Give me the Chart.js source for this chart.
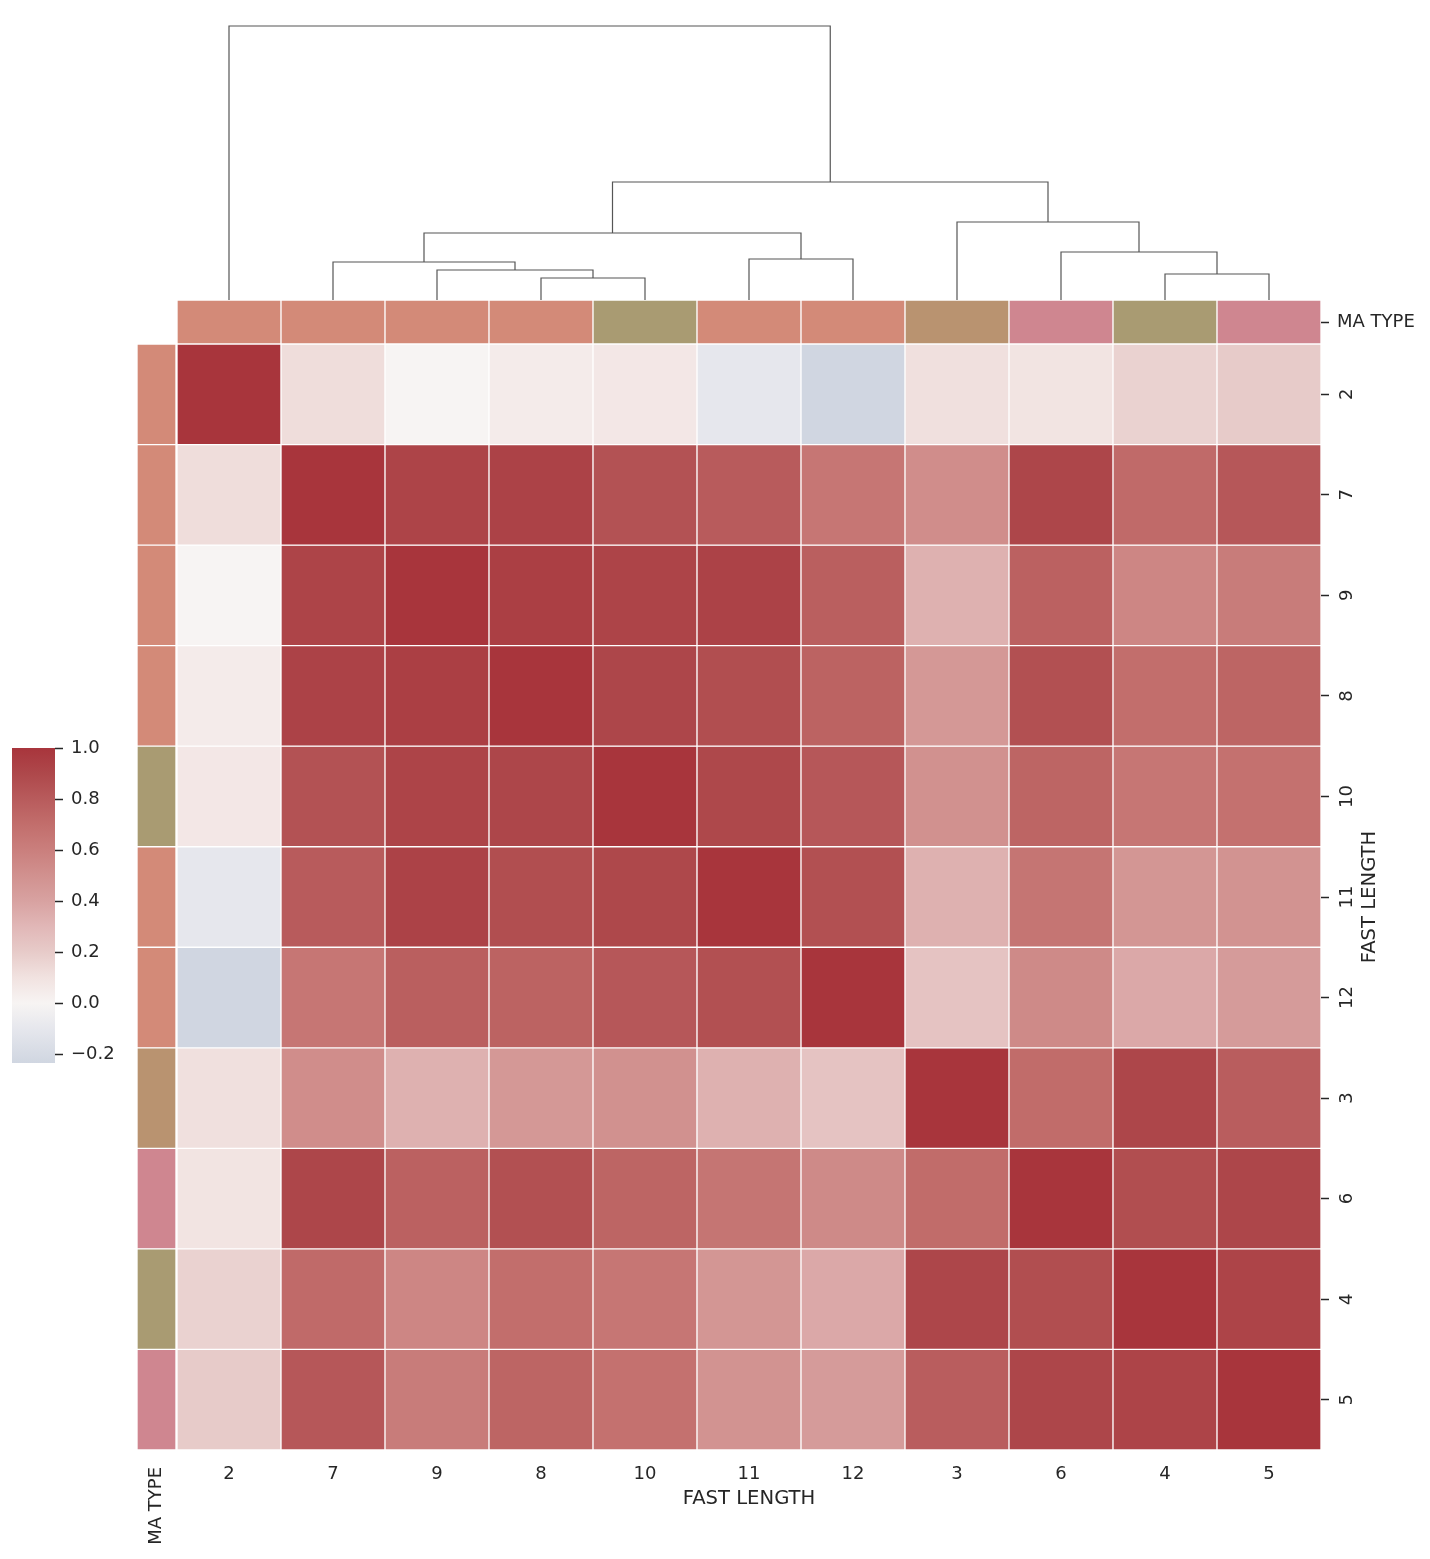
<!DOCTYPE html>
<html>
<head>
<meta charset="utf-8">
<script src="https://cdn.jsdelivr.net/npm/chart.js@4.4.1/dist/chart.umd.min.js"></script>
<style>
  body { margin: 0; background: #fff; }
  #wrap { position: relative; width: 1430px; height: 1559px; }
  #wrap canvas { position: absolute; left: 0; top: 0; }
</style>
</head>
<body>
<div id="wrap">
  <canvas id="dendro" width="1430" height="1559"></canvas>
  <canvas id="colStrip" width="1430" height="1559"></canvas>
  <canvas id="rowStrip" width="1430" height="1559"></canvas>
  <canvas id="cbar" width="1430" height="1559"></canvas>
  <canvas id="heat" width="1430" height="1559"></canvas>
</div>
<script>
// fast lengths, in clustered order (rows and columns are the same)
const lengths = ['2', '7', '9', '8', '10', '11', '12', '3', '6', '4', '5'];
// MA TYPE colour for each length
const maTypeColors = ['#d38a78', '#d38a78', '#d38a78', '#d38a78', '#a99b72', '#d38a78',
                      '#d38a78', '#b99370', '#cf8690', '#a99b72', '#cf8690'];

// correlation matrix, one row per length
const r2  = [1.00, 0.12, 0.00, 0.05, 0.07, -0.10, -0.235, 0.11, 0.09, 0.17, 0.20];
const r7  = [0.12, 1.00, 0.92, 0.93, 0.85, 0.80, 0.65, 0.52, 0.91, 0.72, 0.82];
const r9  = [0.00, 0.92, 1.00, 0.95, 0.92, 0.93, 0.78, 0.33, 0.77, 0.56, 0.62];
const r8  = [0.05, 0.93, 0.95, 1.00, 0.91, 0.87, 0.76, 0.46, 0.86, 0.70, 0.75];
const r10 = [0.07, 0.85, 0.92, 0.91, 1.00, 0.90, 0.82, 0.50, 0.75, 0.65, 0.68];
const r11 = [-0.10, 0.80, 0.93, 0.87, 0.90, 1.00, 0.86, 0.33, 0.66, 0.47, 0.49];
const r12 = [-0.235, 0.65, 0.78, 0.76, 0.82, 0.86, 1.00, 0.24, 0.54, 0.37, 0.44];
const r3  = [0.11, 0.52, 0.33, 0.46, 0.50, 0.33, 0.24, 1.00, 0.71, 0.91, 0.79];
const r6  = [0.09, 0.91, 0.77, 0.86, 0.75, 0.66, 0.54, 0.71, 1.00, 0.87, 0.91];
const r4  = [0.17, 0.72, 0.56, 0.70, 0.65, 0.47, 0.37, 0.91, 0.87, 1.00, 0.92];
const r5  = [0.20, 0.82, 0.62, 0.75, 0.68, 0.49, 0.44, 0.79, 0.91, 0.92, 1.00];
const corr = [r2, r7, r9, r8, r10, r11, r12, r3, r6, r4, r5];

// colorbar
const vmin = -0.235;
const vmax = 1.0;
const cbarTicks = [-0.2, 0.0, 0.2, 0.4, 0.6, 0.8, 1.0];

// dendrogram links (x in column index, y = merge distance), scipy style
const dendroX = [
  [3, 3, 4, 4],
  [2, 2, 3.5, 3.5],
  [1, 1, 2.75, 2.75],
  [5, 5, 6, 6],
  [1.875, 1.875, 5.5, 5.5],
  [9, 9, 10, 10],
  [8, 8, 9.5, 9.5],
  [7, 7, 8.75, 8.75],
  [3.6875, 3.6875, 7.875, 7.875],
  [0, 0, 5.78125, 5.78125]
];
const dendroH = [
  [0, 0.22, 0.22, 0],
  [0, 0.30, 0.30, 0.22],
  [0, 0.38, 0.38, 0.30],
  [0, 0.41, 0.41, 0],
  [0.38, 0.67, 0.67, 0.41],
  [0, 0.26, 0.26, 0],
  [0, 0.48, 0.48, 0.26],
  [0, 0.78, 0.78, 0.48],
  [0.67, 1.18, 1.18, 0.78],
  [0, 2.74, 2.74, 1.18]
];

// colormap (vlag like, centred on 0)
const cmapStops = [
  [-0.235, [208, 214, 225]],
  [-0.1, [230, 231, 237]],
  [0.0, [247, 244, 243]],
  [0.1, [241, 226, 224]],
  [0.2, [231, 203, 201]],
  [0.3, [225, 183, 183]],
  [0.4, [216, 162, 161]],
  [0.5, [209, 145, 143]],
  [0.6, [202, 127, 125]],
  [0.7, [194, 110, 108]],
  [0.8, [184, 91, 92]],
  [0.9, [174, 72, 75]],
  [1.0, [168, 53, 60]]
];
function cmap(v) {
  let i = 0;
  while (i < cmapStops.length - 2 && v > cmapStops[i + 1][0]) i++;
  const [v0, c0] = cmapStops[i];
  const [v1, c1] = cmapStops[i + 1];
  const t = Math.max(0, Math.min(1, (v - v0) / (v1 - v0)));
  const c = c0.map((a, k) => Math.round(a + (c1[k] - a) * t));
  return 'rgb(' + c.join(',') + ')';
}

const W = 1430, H = 1559;
const TXT = '#262626';
const LABEL_SIZE = 19.6;

Chart.defaults.font.family = "'DejaVu Sans', sans-serif";
Chart.defaults.font.size = 18;
Chart.defaults.color = TXT;
Chart.defaults.animation = false;
Chart.defaults.responsive = false;
Chart.defaults.plugins.legend.display = false;
Chart.defaults.plugins.tooltip.enabled = false;

const tickGrid = { drawOnChartArea: false, tickLength: 8, tickWidth: 1.5, tickColor: TXT };

// dendrogram on top
new Chart(document.getElementById('dendro'), {
  type: 'scatter',
  data: {
    datasets: dendroX.map((xs, k) => ({
      data: xs.map((x, j) => ({ x: x, y: dendroH[k][j] })),
      showLine: true,
      borderColor: '#555555',
      borderWidth: 1.2,
      pointRadius: 0
    }))
  },
  options: {
    layout: { padding: { left: 177, right: W - 1321, top: 12, bottom: H - 300 } },
    scales: {
      x: { display: false, min: -0.5, max: lengths.length - 0.5 },
      y: { display: false, min: 0, max: 2.88 }
    }
  }
});

// MA TYPE strip above the heatmap
new Chart(document.getElementById('colStrip'), {
  type: 'bar',
  data: {
    labels: lengths,
    datasets: [{
      data: lengths.map(() => 1),
      backgroundColor: maTypeColors,
      borderColor: '#ffffff',
      borderWidth: 1,
      borderSkipped: false,
      barPercentage: 1,
      categoryPercentage: 1
    }]
  },
  options: {
    layout: { padding: { left: 177, right: W - 1321 - 110, top: 300, bottom: H - 344 } },
    scales: {
      x: { display: false },
      y: {
        position: 'right', min: 0, max: 1,
        grid: tickGrid, border: { display: false },
        ticks: { padding: 8, callback: () => 'MA TYPE' },
        afterBuildTicks: s => { s.ticks = [{ value: 0.5 }]; },
        afterFit: s => { s.width = 110; }
      }
    }
  }
});

// MA TYPE strip left of the heatmap
new Chart(document.getElementById('rowStrip'), {
  type: 'bar',
  data: {
    labels: lengths,
    datasets: [{
      data: lengths.map(() => 1),
      backgroundColor: maTypeColors,
      borderColor: '#ffffff',
      borderWidth: 1,
      borderSkipped: false,
      barPercentage: 1,
      categoryPercentage: 1
    }]
  },
  options: {
    indexAxis: 'y',
    layout: { padding: { left: 137, right: W - 176, top: 344, bottom: H - 1450 - 100 } },
    scales: {
      y: { display: false },
      x: {
        min: 0, max: 1,
        grid: { display: false }, border: { display: false },
        ticks: { padding: 9, minRotation: 90, maxRotation: 90, callback: () => 'MA TYPE' },
        afterBuildTicks: s => { s.ticks = [{ value: 0.5 }]; },
        afterFit: s => { s.height = 100; }
      }
    }
  }
});

// colorbar
new Chart(document.getElementById('cbar'), {
  type: 'bar',
  data: {
    labels: ['corr'],
    datasets: [{
      data: [[vmin, vmax]],
      backgroundColor: c => {
        const chart = c.chart;
        const y = chart.scales.y;
        if (!chart.chartArea || !y) return cmap(0.5);
        const g = chart.ctx.createLinearGradient(0, y.getPixelForValue(vmin), 0, y.getPixelForValue(vmax));
        cmapStops.forEach(([v, col]) => g.addColorStop((v - vmin) / (vmax - vmin), 'rgb(' + col.join(',') + ')'));
        return g;
      },
      borderWidth: 0,
      barPercentage: 1,
      categoryPercentage: 1
    }]
  },
  options: {
    layout: { padding: { left: 12, right: W - 55 - 80, top: 748, bottom: H - 1063 } },
    scales: {
      x: { display: false },
      y: {
        position: 'right', min: vmin, max: vmax,
        grid: tickGrid, border: { display: false },
        ticks: { padding: 8, callback: v => v.toFixed(1).replace('-', '\u2212') },
        afterBuildTicks: s => { s.ticks = cbarTicks.map(v => ({ value: v })); },
        afterFit: s => { s.width = 80; }
      }
    }
  }
});

// right hand axis title, reading bottom to top
const rightTitle = {
  id: 'rightTitle',
  afterDraw(chart) {
    const { ctx, chartArea } = chart;
    const y = chart.scales.y;
    ctx.save();
    ctx.translate(y.right - 31, (chartArea.top + chartArea.bottom) / 2);
    ctx.rotate(-Math.PI / 2);
    ctx.font = LABEL_SIZE + "px 'DejaVu Sans', sans-serif";
    ctx.fillStyle = TXT;
    ctx.textAlign = 'center';
    ctx.textBaseline = 'middle';
    ctx.fillText('FAST LENGTH', 0, 0);
    ctx.restore();
  }
};

// heatmap: one stacked dataset per row
new Chart(document.getElementById('heat'), {
  type: 'bar',
  data: {
    labels: lengths,
    datasets: corr.map((row, i) => ({
      label: lengths[i],
      data: row.map(() => 1),
      backgroundColor: row.map(cmap),
      borderColor: '#ffffff',
      borderWidth: 1,
      borderSkipped: false,
      barPercentage: 1,
      categoryPercentage: 1
    }))
  },
  options: {
    layout: { padding: { left: 177, right: W - 1321 - 80, top: 344, bottom: H - 1450 - 80 } },
    scales: {
      x: {
        stacked: true,
        grid: { display: false }, border: { display: false },
        ticks: { padding: 6, maxRotation: 0, autoSkip: false },
        title: { display: true, text: 'FAST LENGTH', font: { size: LABEL_SIZE }, padding: { top: 0, bottom: 19 } },
        afterFit: s => { s.height = 80; }
      },
      y: {
        stacked: true, position: 'right', reverse: true, min: 0, max: lengths.length,
        grid: tickGrid, border: { display: false },
        ticks: { padding: 7, minRotation: 90, maxRotation: 90, crossAlign: 'center', callback: (v, i) => lengths[i] },
        afterBuildTicks: s => { s.ticks = lengths.map((l, i) => ({ value: i + 0.5 })); },
        afterFit: s => { s.width = 80; }
      }
    }
  },
  plugins: [rightTitle]
});
</script>
</body>
</html>
